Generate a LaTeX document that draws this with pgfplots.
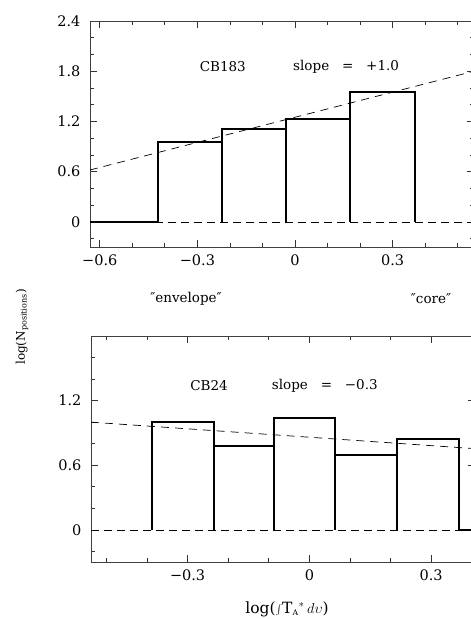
\documentclass[border=0pt]{standalone}
\usepackage{fontspec}
\setmainfont{DejaVu Serif}
\usepackage{pgfplots}
\pgfplotsset{compat=1.18}

\newcommand\tickfont{\fontsize{14.5}{17}\selectfont}
\newcommand\annfont{\fontsize{13.5}{16}\selectfont}

\pgfplotsset{
  histpanel/.style={
    scale only axis,
    anchor=south west,
    width=384pt,
    axis line style={black!75, line width=0.7pt},
    tick style={black!80, line width=0.7pt},
    tick align=inside,
    major tick length=7pt,
    minor tick length=4pt,
    xticklabel style={font=\tickfont, yshift=-4pt},
    yticklabel style={font=\tickfont, xshift=-6pt},
    /pgf/number format/assume math mode=true,
    /pgf/number format/fixed,
    clip=true,
  },
  hbin/.style={black, line width=1.9pt, line join=miter, forget plot},
  zeroline/.style={black, line width=0.7pt, dash pattern=on 8pt off 5pt, forget plot},
  fitline/.style={black, line width=0.7pt, dash pattern=on 8pt off 6pt, forget plot},
}

\begin{document}
\begin{tikzpicture}[x=1pt,y=1pt]

% ---------------- CB183 ----------------
\begin{axis}[histpanel,
  at={(90pt,372pt)}, height=226pt,
  xmin=-0.63, xmax=0.55, ymin=-0.3, ymax=2.4,
  xtick={-0.6,-0.3,0,0.3},
  xticklabels={−0.6,−0.3,0,0.3},
  minor xtick={-0.5,-0.4,-0.2,-0.1,0.1,0.2,0.4,0.5},
  ytick={0,0.6,1.2,1.8,2.4},
  yticklabels={0,0.6,1.2,1.8,2.4},
  minor ytick={-0.2,0.2,0.4,0.8,1.0,1.4,1.6,2.0,2.2},
]
\addplot[zeroline] coordinates {(-0.63,0) (0.55,0)};
\addplot[fitline]  coordinates {(-0.63,0.62) (0.55,1.80)};
% one position per bin -> log N = 0
\addplot[hbin] coordinates {(-0.63,0) (-0.422,0)};
\addplot[hbin] coordinates {(-0.422,0) (-0.422,0.954) (-0.225,0.954) (-0.225,0)};
\addplot[hbin] coordinates {(-0.225,0) (-0.225,1.114) (-0.029,1.114) (-0.029,0)};
\addplot[hbin] coordinates {(-0.029,0) (-0.029,1.230) (0.169,1.230) (0.169,0)};
\addplot[hbin] coordinates {(0.169,0) (0.169,1.556) (0.369,1.556) (0.369,0)};
\node[font=\annfont] at (axis cs:-0.222,1.85) {CB183};
\node[font=\annfont] at (axis cs:0.157,1.85) {slope\hspace{0.95em}=\hspace{0.95em}+1.0};
\end{axis}

% ---------------- CB24 ----------------
\begin{axis}[histpanel,
  at={(91pt,56.7pt)}, height=226.4pt,
  xmin=-0.538, xmax=0.408, ymin=-0.3, ymax=1.8,
  xtick={-0.3,0,0.3},
  xticklabels={−0.3,0,0.3},
  minor xtick={-0.5,-0.4,-0.2,-0.1,0.1,0.2,0.4},
  ytick={0,0.6,1.2,1.8},
  yticklabels={0,0.6,1.2,},
  minor ytick={-0.2,0.2,0.4,0.8,1.0,1.4,1.6},
]
\addplot[zeroline] coordinates {(-0.538,0) (0.408,0)};
\addplot[fitline]  coordinates {(-0.538,1.0) (0.408,0.754)};
\addplot[hbin] coordinates {(-0.387,0) (-0.387,1.000) (-0.236,1.000) (-0.236,0)};
\addplot[hbin] coordinates {(-0.236,0) (-0.236,0.778) (-0.0865,0.778) (-0.0865,0)};
\addplot[hbin] coordinates {(-0.0865,0) (-0.0865,1.041) (0.064,1.041) (0.064,0)};
\addplot[hbin] coordinates {(0.064,0) (0.064,0.699) (0.215,0.699) (0.215,0)};
\addplot[hbin] coordinates {(0.215,0) (0.215,0.845) (0.369,0.845) (0.369,0)};
\addplot[hbin] coordinates {(0.369,0) (0.52,0)};
\node[font=\annfont] at (axis cs:-0.247,1.34) {CB24};
\node[font=\annfont] at (axis cs:0.038,1.34) {slope\hspace{0.95em}=\hspace{0.95em}−0.3};
\end{axis}

% region labels between the panels
\node[font=\annfont] at (186pt,320pt) {″envelope″};
\node[font=\annfont] at (431pt,320pt) {″core″};

% axis titles
\node[font=\fontsize{12}{14}\selectfont, rotate=90] at (22pt,292pt)
  {log(N\textsubscript{positions})};
\node[font=\fontsize{15.5}{18}\selectfont] at (287pt,10pt)
  {log($\textstyle\int$T$_{\scriptscriptstyle\mathrm{A}}{}^{*}$\,$d\upsilon$)};

\pgfresetboundingbox
\path[use as bounding box] (0pt,0pt) rectangle (471pt,619pt);
\end{tikzpicture}
\end{document}
